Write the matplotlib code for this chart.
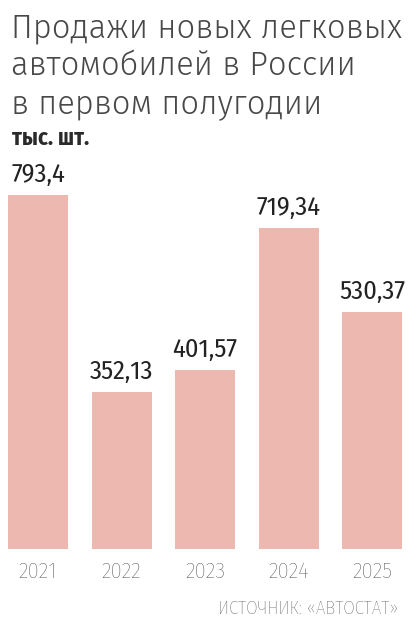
import matplotlib
matplotlib.use("Agg")
import matplotlib.pyplot as plt

years = ["2021", "2022", "2023", "2024", "2025"]
sales = [793.4, 352.13, 401.57, 719.34, 530.37]
value_labels = ["793,4", "352,13", "401,57", "719,34", "530,37"]

title_lines = ["Продажи новых легковых", "автомобилей в России", "в первом полугодии"]
unit = "тыс. шт."
source = "ИСТОЧНИК: «АВТОСТАТ»"

W, H = 419, 625
fig = plt.figure(figsize=(W / 100, H / 100), dpi=100)

bar_color = "#EDB8AF"
grey = "#484848"
cond = ["Fira Sans Condensed", "DejaVu Sans"]
light = ["Fira Sans", "Open Sans", "DejaVu Sans"]

# axes: baseline at 549px from top, 793.4 reaches 195px
step = 83.5
ax = fig.add_axes([0, 76 / H, 1, 354 / H])
ax.set_ylim(0, max(sales))
x0 = -38 / step
ax.set_xlim(x0, x0 + W / step)

xs = list(range(len(years)))
ax.bar(xs, sales, width=60 / step, color=bar_color)

for xi, v, lab in zip(xs, sales, value_labels):
    ax.annotate(lab, (xi, v), xytext=(0, 9.4), textcoords="offset points",
                ha="center", va="baseline", fontsize=19, color="#222222",
                family=cond)

ax.set_xticks(xs)
ax.set_xticklabels(years, family=cond, fontsize=16.5, color="#4f4f4f", weight="light")
ax.tick_params(axis="x", length=0, pad=9)
ax.set_yticks([])
for s in ax.spines.values():
    s.set_visible(False)

# title, one text per line so baselines sit where the reference has them
for line, base in zip(title_lines, [37, 75, 113]):
    fig.text(11 / W, 1 - base / H, line, ha="left", va="baseline", fontsize=23.5,
             family=light, weight=300, color=grey)
fig.text(12 / W, 1 - 145 / H, unit, ha="left", va="baseline", fontsize=16.5,
         family=cond, weight="bold", color="#2a2a2a")
fig.text(398 / W, 1 - 614 / H, source, ha="right", va="baseline", fontsize=13.5,
         family=cond, weight="light", color="#555555")

fig.savefig("out.png", dpi=100)
